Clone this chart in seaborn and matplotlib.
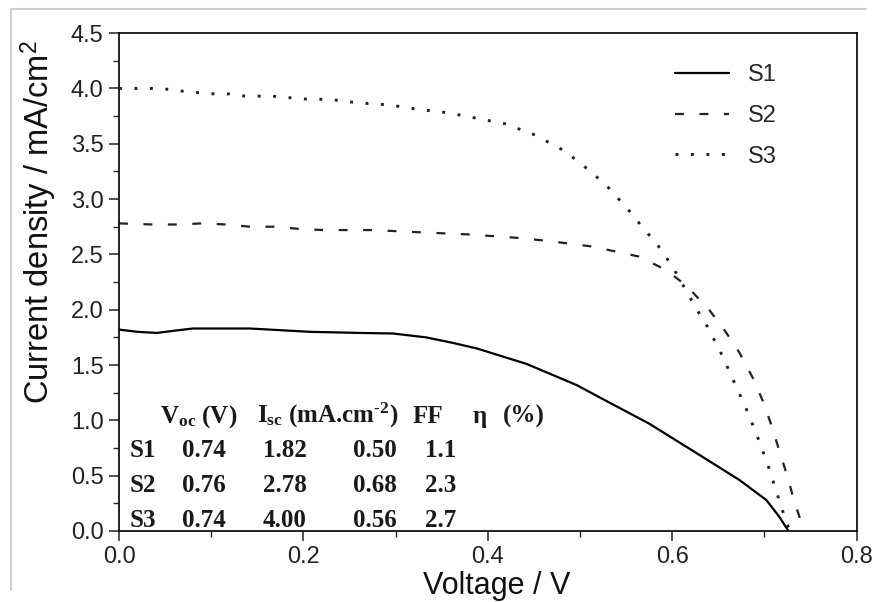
import numpy as np
import pandas as pd
import matplotlib
matplotlib.use("Agg")
import matplotlib.pyplot as plt
from matplotlib.lines import Line2D
import seaborn as sns

# ---- data ----
s1_v = [0, 0.02, 0.041, 0.06, 0.08, 0.142, 0.207, 0.261, 0.297, 0.333, 0.362, 0.388,
        0.442, 0.496, 0.532, 0.575, 0.629, 0.673, 0.702, 0.716, 0.726]
s1_j = [1.82, 1.80, 1.79, 1.81, 1.83, 1.83, 1.80, 1.79, 1.785, 1.75, 1.70, 1.65,
        1.51, 1.32, 1.16, 0.97, 0.69, 0.46, 0.28, 0.13, 0.0]

s2_v = [0, 0.037, 0.062, 0.09, 0.117, 0.142, 0.169, 0.196, 0.221, 0.247, 0.275, 0.326,
        0.38, 0.431, 0.467, 0.514, 0.564, 0.593, 0.615, 0.640, 0.658, 0.673, 0.687,
        0.698, 0.707, 0.716, 0.725, 0.732, 0.743]
s2_j = [2.78, 2.77, 2.77, 2.78, 2.77, 2.75, 2.75, 2.73, 2.72, 2.72, 2.72, 2.70,
        2.68, 2.65, 2.62, 2.57, 2.48, 2.36, 2.22, 2.0, 1.80, 1.61, 1.39,
        1.18, 0.97, 0.73, 0.49, 0.28, 0.0]

s3_v = [0, 0.042, 0.057, 0.073, 0.089, 0.104, 0.12, 0.137, 0.167, 0.199, 0.23, 0.259,
        0.294, 0.325, 0.357, 0.388, 0.419, 0.451, 0.482, 0.498, 0.514, 0.529, 0.544,
        0.557, 0.569, 0.582, 0.593, 0.603, 0.62, 0.629, 0.638, 0.654, 0.668, 0.681,
        0.693, 0.704, 0.714, 0.724, 0.728]
s3_j = [4.0, 4.0, 3.99, 3.97, 3.96, 3.95, 3.95, 3.93, 3.93, 3.905, 3.90, 3.87,
        3.85, 3.81, 3.78, 3.73, 3.68, 3.58, 3.44, 3.34, 3.23, 3.12, 2.98,
        2.86, 2.73, 2.61, 2.48, 2.35, 2.10, 1.97, 1.85, 1.59, 1.33, 1.09,
        0.84, 0.59, 0.33, 0.07, 0.0]

samples = ["S1", "S2", "S3"]
voc = ["0.74", "0.76", "0.74"]
isc = ["1.82", "2.78", "4.00"]
ff = ["0.50", "0.68", "0.56"]
eta = ["1.1", "2.3", "2.7"]

df = pd.concat([
    pd.DataFrame({"V": s1_v, "J": s1_j, "sample": "S1"}),
    pd.DataFrame({"V": s2_v, "J": s2_j, "sample": "S2"}),
    pd.DataFrame({"V": s3_v, "J": s3_j, "sample": "S3"}),
], ignore_index=True)

sns.set_theme(style="ticks")
plt.rcParams["font.family"] = ["Liberation Sans", "DejaVu Sans"]
plt.rcParams["mathtext.fontset"] = "custom"
plt.rcParams["mathtext.rm"] = "Liberation Serif:bold"
plt.rcParams["mathtext.bf"] = "Liberation Serif:bold"
plt.rcParams["mathtext.it"] = "Liberation Serif:bold"
plt.rcParams["mathtext.sf"] = "Liberation Sans"

fig = plt.figure(figsize=(8.75, 6.02), dpi=100)
ax = fig.add_axes([0.136, 0.118, 0.843, 0.827])

sns.lineplot(data=df, x="V", y="J", hue="sample", style="sample",
             palette={"S1": "black", "S2": "#222222", "S3": "#222222"},
             dashes={"S1": "", "S2": (4, 7), "S3": (1.0, 4.3)},
             estimator=None, sort=False, linewidth=1.6, legend=False, ax=ax)
ax.lines[2].set_linewidth(2.1)
for ln in ax.lines[:3]:
    ln.set_solid_joinstyle("round")

ax.set_xlim(0, 0.8)
ax.set_ylim(0, 4.5)
ax.set_xticks(np.arange(0, 0.81, 0.2))
ax.set_xticks(np.arange(0, 0.81, 0.1), minor=True)
ax.set_yticks(np.arange(0, 4.51, 0.5))
ax.set_yticks(np.arange(0, 4.51, 0.25), minor=True)
ax.set_xticklabels(["0.0", "0.2", "0.4", "0.6", "0.8"])
ax.set_yticklabels([f"{v:.1f}" for v in np.arange(0, 4.51, 0.5)])
ax.tick_params(which="major", direction="out", length=7, width=1.1,
               labelsize=17, colors="#222222", pad=4)
ax.tick_params(which="minor", direction="out", length=4, width=1.0)
for s in ax.spines.values():
    s.set_visible(True)
    s.set_linewidth(1.3)
    s.set_color("#111111")

ax.set_xlabel("Voltage / V", fontsize=22, color="#111111")
ax.set_ylabel(r"Current density / mA/cm$^{\mathsf{2}}$", fontsize=23.5,
              color="#111111")
ax.xaxis.set_label_coords(0.512, -0.08)
ax.yaxis.set_label_coords(-0.081, 0.62)

ax.legend(ax.lines[:3], samples, loc="upper right", bbox_to_anchor=(0.905, 0.957),
          frameon=False, fontsize=17, handlelength=2.3, labelspacing=0.8,
          handletextpad=0.8, borderaxespad=0)

# parameter table
tkw = dict(fontsize=18, family="Liberation Serif", fontweight="bold",
           color="#1a1a1a", transform=ax.transData, va="baseline", ha="left")
ax.text(0.044, 0.976, r"V$_{\rm oc}$ (V)", **tkw)
ax.text(0.1495, 0.976, r"I$_{\rm sc}$ (mA.cm$^{\text{-2}}$)", **tkw)
ax.text(0.3185, 0.976, "FF", **tkw)
ax.text(0.3835, 0.976, "η", **tkw)
ax.text(0.416, 0.976, "(%)", **tkw)
row_y = [0.67, 0.35, 0.036]
for i in range(3):
    ax.text(0.012, row_y[i], samples[i], **tkw)
    ax.text(0.068, row_y[i], voc[i], **tkw)
    ax.text(0.156, row_y[i], isc[i], **tkw)
    ax.text(0.2535, row_y[i], ff[i], **tkw)
    ax.text(0.3315, row_y[i], eta[i], **tkw)

# faint scan border
fig.add_artist(Line2D([0.012, 0.012], [0.02, 0.985], transform=fig.transFigure,
                      color="#cfcfcf", lw=1.5))
fig.add_artist(Line2D([0.012, 0.99], [0.985, 0.985], transform=fig.transFigure,
                      color="#cfcfcf", lw=1.5))

fig.savefig("out.png", dpi=100)
